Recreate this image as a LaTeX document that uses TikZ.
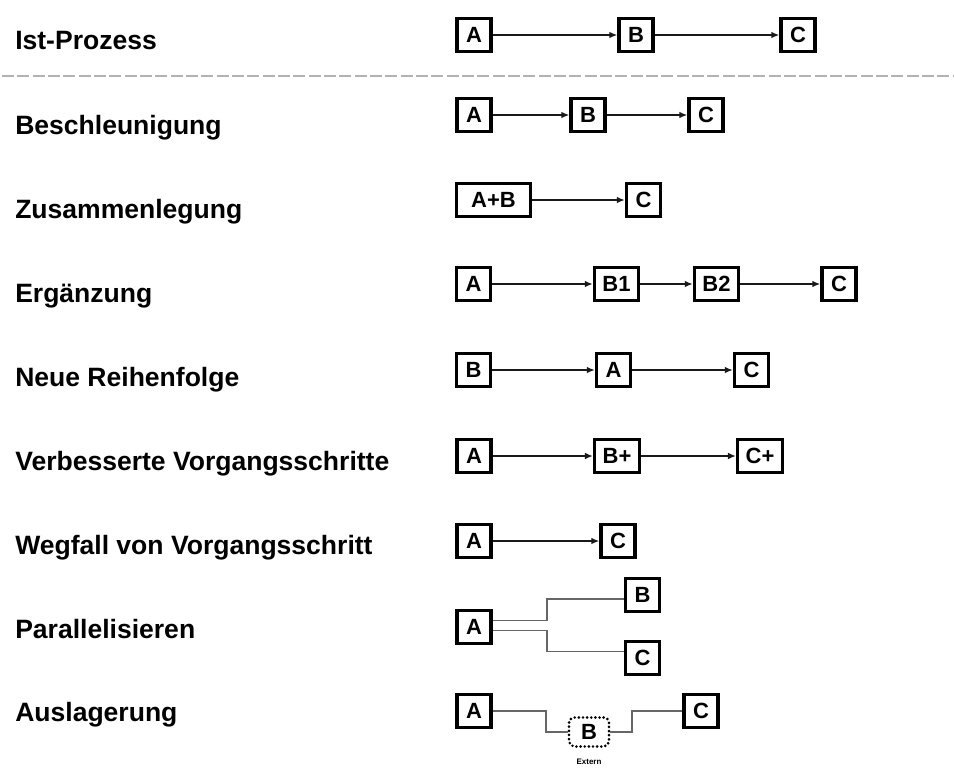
\documentclass[tikz,border=0pt]{standalone}
\usepackage{fontspec}
\setmainfont{Liberation Sans}
\usetikzlibrary{arrows.meta}
\begin{document}
\begin{tikzpicture}[x=0.75pt,y=-0.75pt,
  lbl/.style={anchor=base west, inner sep=0pt,
    font=\fontsize{19.9}{22}\selectfont\bfseries},
  box/.style={draw=black, line width=2.5pt, fill=white,
    font=\fontsize{16.5}{18}\selectfont\bfseries,
    minimum width=25.5pt, minimum height=24.75pt,
    inner xsep=6pt, inner ysep=0pt},
  extbox/.style={draw=black, line width=2.2pt, line cap=round,
    dash pattern=on 0pt off 3.1pt, rounded corners=4pt, fill=white,
    font=\fontsize{16.5}{18}\selectfont\bfseries,
    minimum width=30pt, minimum height=21.75pt, inner sep=0pt},
  flow/.style={draw=black!90, line width=1.2pt,
    -{Latex[length=6pt,width=5pt]}},
  link/.style={draw=black!60, line width=0.9pt},
  sep/.style={draw=black!30, line width=1.5pt, dash pattern=on 9pt off 2.5pt},
]
\path[use as bounding box] (0,0) rectangle (954,769);

% row labels
\node[lbl] (l1) at (15,49)  {Ist-Prozess};
\node[lbl] (l2) at (15,134) {Beschleunigung};
\node[lbl] (l3) at (15,218) {Zusammenlegung};
\node[lbl] (l4) at (15,302) {Erg\"anzung};
\node[lbl] (l5) at (15,386) {Neue Reihenfolge};
\node[lbl] (l6) at (15,470) {Verbesserte Vorgangsschritte};
\node[lbl] (l7) at (15,554) {Wegfall von Vorgangsschritt};
\node[lbl] (l8) at (15,638) {Parallelisieren};
\node[lbl] (l9) at (15,721) {Auslagerung};

% separator below the current process
\coordinate (sepL) at (2,76);
\coordinate (sepR) at (954,76);
\draw[sep] (sepL) -- (sepR);

% Ist-Prozess
\node[box] (A1) at (474,35) {A};
\node[box] (B1) at (636,35) {B};
\node[box] (C1) at (798,35) {C};
\draw[flow] (A1) -- (B1);
\draw[flow] (B1) -- (C1);

% Beschleunigung
\node[box] (A2) at (474,115) {A};
\node[box] (B2) at (588,115) {B};
\node[box] (C2) at (706,115) {C};
\draw[flow] (A2) -- (B2);
\draw[flow] (B2) -- (C2);

% Zusammenlegung
\node[box, minimum width=55.5pt] (AB3) at (493.5,200) {A+B};
\node[box] (C3) at (643.5,200) {C};
\draw[flow] (AB3) -- (C3);

% Ergaenzung
\node[box] (A4)  at (473.5,284) {A};
\node[box] (B14) at (616.5,284) {B1};
\node[box] (B24) at (716.5,284) {B2};
\node[box] (C4)  at (839,284) {C};
\draw[flow] (A4) -- (B14);
\draw[flow] (B14) -- (B24);
\draw[flow] (B24) -- (C4);

% Neue Reihenfolge
\node[box] (B5) at (473.5,370) {B};
\node[box] (A5) at (613.5,370) {A};
\node[box] (C5) at (751.5,370) {C};
\draw[flow] (B5) -- (A5);
\draw[flow] (A5) -- (C5);

% Verbesserte Vorgangsschritte
\node[box] (A6) at (474,456) {A};
\node[box] (B6) at (617,456) {B+};
\node[box] (C6) at (760,456) {C+};
\draw[flow] (A6) -- (B6);
\draw[flow] (B6) -- (C6);

% Wegfall von Vorgangsschritt
\node[box] (A7) at (474,541) {A};
\node[box] (C7) at (618,541) {C};
\draw[flow] (A7) -- (C7);

% Parallelisieren
\node[box] (A8) at (474,627) {A};
\node[box] (B8) at (642.5,595) {B};
\node[box] (C8) at (642.5,658) {C};
\coordinate (f8a) at (547,610);
\coordinate (f8b) at (547,640);
\draw[link] ([yshift=5pt]A8.east) -| (f8a) |- ([yshift=-3pt]B8.west);
\draw[link] ([yshift=-2.5pt]A8.east) -| (f8b) |- ([yshift=5pt]C8.west);

% Auslagerung
\node[box] (A9) at (474,711) {A};
\node[extbox] (B9) at (589,732) {B};
\node[font=\fontsize{6}{7}\selectfont\bfseries, inner sep=0pt] (e9) at (589,762) {Extern};
\node[box] (C9) at (701,711) {C};
\coordinate (d9a) at (546,722);
\coordinate (d9b) at (632,722);
\draw[link] (A9.east) -| (d9a) |- (B9.west);
\draw[link] (B9.east) -| (d9b) |- (C9.west);
\end{tikzpicture}
\end{document}
